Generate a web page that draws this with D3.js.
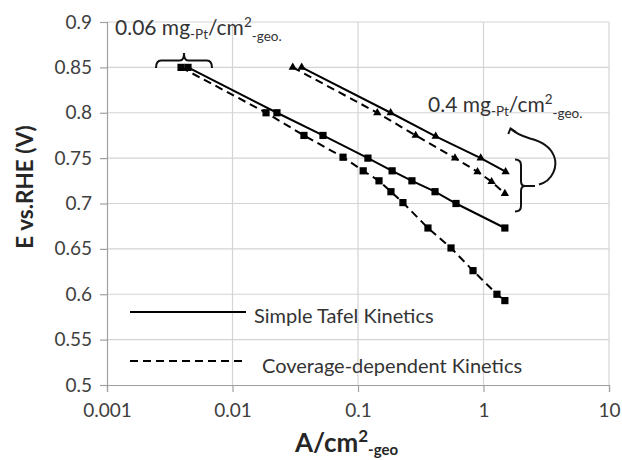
<!DOCTYPE html>
<html>
<head>
<meta charset="utf-8">
<script src="https://cdn.jsdelivr.net/npm/d3@7"></script>
<style>
  body { margin: 0; background: #fff; }
  svg { display: block; font-family: Lato, "Open Sans", sans-serif; }
</style>
</head>
<body>
<svg width="622" height="460"></svg>
<script>
// 0.06 mg Pt loading (squares)
var tafelLowX = [0.00442, 0.0226, 0.0526, 0.120, 0.187, 0.269, 0.411, 0.604, 1.48];
var tafelLowE = [0.85, 0.80, 0.775, 0.75, 0.736, 0.725, 0.713, 0.70, 0.673];
var covLowX = [0.00389, 0.0185, 0.0371, 0.0760, 0.110, 0.147, 0.183, 0.228, 0.361, 0.551, 0.825, 1.28, 1.48];
var covLowE = [0.85, 0.80, 0.775, 0.751, 0.736, 0.725, 0.713, 0.701, 0.673, 0.651, 0.626, 0.600, 0.593];
// 0.4 mg Pt loading (triangles)
var tafelHighX = [0.0356, 0.182, 0.416, 0.950, 1.50];
var tafelHighE = [0.85, 0.80, 0.774, 0.75, 0.735];
var covHighX = [0.0302, 0.1425, 0.288, 0.593, 0.896, 1.16, 1.48];
var covHighE = [0.85, 0.80, 0.775, 0.75, 0.735, 0.724, 0.711];

var xTicks = [0.001, 0.01, 0.1, 1, 10];
var xTickLabels = ["0.001", "0.01", "0.1", "1", "10"];
var yTicks = [0.5, 0.55, 0.6, 0.65, 0.7, 0.75, 0.8, 0.85, 0.9];
var yTickLabels = ["0.5", "0.55", "0.6", "0.65", "0.7", "0.75", "0.8", "0.85", "0.9"];

var svg = d3.select("svg"),
    margin = {top: 22, right: 13, bottom: 75, left: 107},
    width = 622 - margin.left - margin.right,
    height = 460 - margin.top - margin.bottom,
    g = svg.append("g").attr("transform", "translate(" + margin.left + "," + margin.top + ")");

var x = d3.scaleLog().domain([0.001, 10]).range([0, width]);
var y = d3.scaleLinear().domain([0.5, 0.9]).range([height, 0]);

// gridlines
g.selectAll(".hgrid").data(yTicks.slice(1)).enter().append("line")
  .attr("x1", 0).attr("x2", width)
  .attr("y1", function(d) { return y(d); }).attr("y2", function(d) { return y(d); })
  .attr("stroke", "#d4d4d4").attr("stroke-width", 1.2);
g.selectAll(".vgrid").data(xTicks.slice(1)).enter().append("line")
  .attr("y1", 0).attr("y2", height)
  .attr("x1", function(d) { return x(d); }).attr("x2", function(d) { return x(d); })
  .attr("stroke", "#d4d4d4").attr("stroke-width", 1.2);

// axes
var yAxis = g.append("g")
  .call(d3.axisLeft(y).tickValues(yTicks).tickSize(7).tickPadding(8)
    .tickFormat(function(d, i) { return yTickLabels[i]; }));
var xAxis = g.append("g").attr("transform", "translate(0," + height + ")")
  .call(d3.axisBottom(x).tickValues(xTicks).tickSize(7).tickPadding(12)
    .tickFormat(function(d, i) { return xTickLabels[i]; }));
[xAxis, yAxis].forEach(function(a) {
  a.select(".domain").attr("stroke", "#a0a0a0").attr("stroke-width", 1.2);
  a.selectAll(".tick line").attr("stroke", "#a0a0a0").attr("stroke-width", 1.2);
  a.selectAll(".tick text").attr("fill", "#404040").style("font-size", "19px").style("font-family", "Lato, sans-serif");
});

// series
var line = d3.line().x(function(d) { return x(d[0]); }).y(function(d) { return y(d[1]); });
var series = [
  {xs: tafelLowX, es: tafelLowE, dash: null, sym: d3.symbolSquare, size: 52},
  {xs: covLowX, es: covLowE, dash: "8,5", sym: d3.symbolSquare, size: 52},
  {xs: tafelHighX, es: tafelHighE, dash: null, sym: d3.symbolTriangle, size: 30},
  {xs: covHighX, es: covHighE, dash: "8,5", sym: d3.symbolTriangle, size: 30}
];
series.forEach(function(s) {
  var pts = s.xs.map(function(v, i) { return [v, s.es[i]]; });
  g.append("path").datum(pts)
    .attr("d", line).attr("fill", "none").attr("stroke", "#000")
    .attr("stroke-width", 2).attr("stroke-dasharray", s.dash);
  g.selectAll(null).data(pts).enter().append("path")
    .attr("transform", function(d) { return "translate(" + x(d[0]) + "," + y(d[1]) + ")"; })
    .attr("d", d3.symbol().type(s.sym).size(s.size))
    .attr("fill", "#000");
});

// legend
svg.append("line").attr("x1", 130).attr("x2", 246).attr("y1", 312).attr("y2", 312)
  .attr("stroke", "#000").attr("stroke-width", 2);
svg.append("line").attr("x1", 130).attr("x2", 246).attr("y1", 361).attr("y2", 361)
  .attr("stroke", "#000").attr("stroke-width", 2).attr("stroke-dasharray", "8,5");
svg.append("text").attr("x", 254).attr("y", 323).attr("fill", "#333")
  .style("font-size", "20px").text("Simple Tafel Kinetics");
svg.append("text").attr("x", 262).attr("y", 373).attr("fill", "#333")
  .style("font-size", "20px").text("Coverage-dependent Kinetics");

// loading annotations
function loading(xp, yp, num) {
  var t = svg.append("text").attr("x", xp).attr("y", yp).attr("fill", "#333").style("font-size", "21px");
  t.append("tspan").text(num + " mg");
  t.append("tspan").attr("dy", 4).style("font-size", "13.5px").text("-Pt");
  t.append("tspan").attr("dy", -4).text("/cm");
  t.append("tspan").attr("dy", -8).style("font-size", "13.5px").text("2");
  t.append("tspan").attr("dy", 14).style("font-size", "13.5px").text("-geo.");
}
loading(115, 35, "0.06");
loading(428, 112, "0.4");

var ink = {fill: "none", stroke: "#111", "stroke-width": 2};
function stroke(d) {
  var p = svg.append("path").attr("d", d);
  for (var k in ink) p.attr(k, ink[k]);
}
// horizontal brace over the 0.06 start points
stroke("M156,68 Q156,60.5 161,60.5 L180,60.5 Q184,60.5 184,53 Q184,60.5 188,60.5 L207,60.5 Q212,60.5 212,68");
// vertical brace by the 0.4 end points and curved arrow
stroke("M515,159.5 Q521,159.5 521,165 L521,181 Q521,186 525,186 Q521,186 521,191 L521,206 Q521,211.5 515,211.5");
stroke("M525,186 L535,186");
stroke("M539,184.5 C553,181 558,166 554,156 C550,146 540,141 530,138.5 C522,136 515,133 510.5,128.5");
stroke("M508.3,134 L510.5,128.5 L516,132");

// axis titles
svg.append("text").attr("transform", "translate(33,187) rotate(-90)")
  .attr("text-anchor", "middle").attr("fill", "#262626")
  .style("font-size", "22.5px").style("font-weight", "bold").text("E vs.RHE (V)");
var xt = svg.append("text").attr("x", 295).attr("y", 452).attr("fill", "#262626")
  .style("font-size", "26px").style("font-weight", "bold");
xt.append("tspan").text("A/cm");
xt.append("tspan").attr("dy", -10).style("font-size", "17px").text("2");
xt.append("tspan").attr("dy", 13).style("font-size", "15px").text("-geo");
</script>
</body>
</html>
